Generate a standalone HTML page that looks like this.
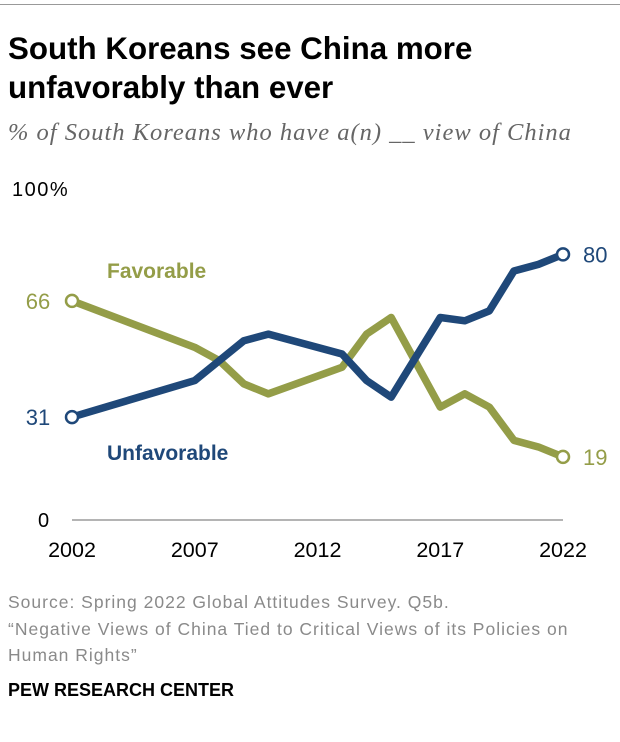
<!DOCTYPE html>
<html><head><meta charset="utf-8"><style>
body{margin:0;width:620px;height:742px;background:#fff;font-family:"Liberation Sans",sans-serif;overflow:hidden;position:relative}
.t{position:absolute;left:8px}
</style></head><body>
<div style="position:absolute;left:0;top:4px;width:620px;height:1px;background:#999"></div>
<div class="t" style="top:29px;font-size:31.3px;font-weight:bold;line-height:39px;color:#000">South Koreans see China more<br>unfavorably than ever</div>
<div class="t" style="top:119px;font-family:'Liberation Serif',serif;font-style:italic;font-size:24.5px;letter-spacing:1px;color:#666">% of South Koreans who have a(n) __ view of China</div>
<svg id="c" width="620" height="742" style="position:absolute;left:0;top:0"></svg>
<div class="t" style="top:589px;font-size:17.5px;letter-spacing:1px;line-height:26.5px;color:#8a8a8a">Source: Spring 2022 Global Attitudes Survey. Q5b.<br>“Negative Views of China Tied to Critical Views of its Policies on<br>Human Rights”</div>
<div class="t" style="top:680px;font-size:18px;font-weight:bold;color:#000">PEW RESEARCH CENTER</div>
<script>
const years=[2002,2007,2008,2009,2010,2013,2014,2015,2017,2018,2019,2020,2021,2022];
const favorable=[66,52,48,41,38,46,56,61,34,38,34,24,22,19];
const unfavorable=[31,42,48,54,56,50,42,37,61,60,63,75,77,80];
const tickYears=[2002,2007,2012,2017,2022];
const NS="http://www.w3.org/2000/svg";
const svg=document.getElementById('c');
const x=y=>72+(y-2002)*(563-72)/20;
const yv=v=>520-v*3.32;
function mk(t,a,txt){const e=document.createElementNS(NS,t);for(const k in a)e.setAttribute(k,a[k]);if(txt!==undefined)e.textContent=txt;svg.appendChild(e);return e;}
let e;
e=mk('line',{x1:72,x2:563,y1:yv(0),y2:yv(0),stroke:'#888','stroke-width':1.2});


e=mk('text',{x:12,y:196,'font-size':20,'letter-spacing':1.5,fill:'#000'},'100%');


e=mk('text',{x:38,y:527,'font-size':20,fill:'#000'},'0');


tickYears.forEach(t=>{
 const el=mk('text',{x:x(t),y:557,'font-size':21.5,'text-anchor':'middle',fill:'#000'},String(t));
 
 
});
function series(vals,col,name){
 const p=mk('polyline',{points:years.map((yr,i)=>x(yr)+','+yv(vals[i])).join(' '),fill:'none',stroke:col,'stroke-width':7.5,'stroke-linejoin':'round'});
 
 
 [0,vals.length-1].forEach(i=>{
  const c=mk('circle',{cx:x(years[i]),cy:yv(vals[i]),r:6,fill:'#fff',stroke:col,'stroke-width':2.5});
  
  
 });
 const l=mk('text',{x:x(years[0])-34,y:yv(vals[0])+8,'font-size':22,'text-anchor':'middle',fill:col},String(vals[0]));
 
 
 const r=mk('text',{x:x(years[years.length-1])+20,y:yv(vals[vals.length-1])+8,'font-size':22,fill:col},String(vals[vals.length-1]));
 
 
}
series(favorable,'#949d48','favorable');
series(unfavorable,'#1f4879','unfavorable');
e=mk('text',{x:107,y:278,'font-size':21,'font-weight':'bold',fill:'#949d48'},'Favorable');


e=mk('text',{x:107,y:460,'font-size':21,'font-weight':'bold',fill:'#1f4879'},'Unfavorable');


</script>
</body></html>
